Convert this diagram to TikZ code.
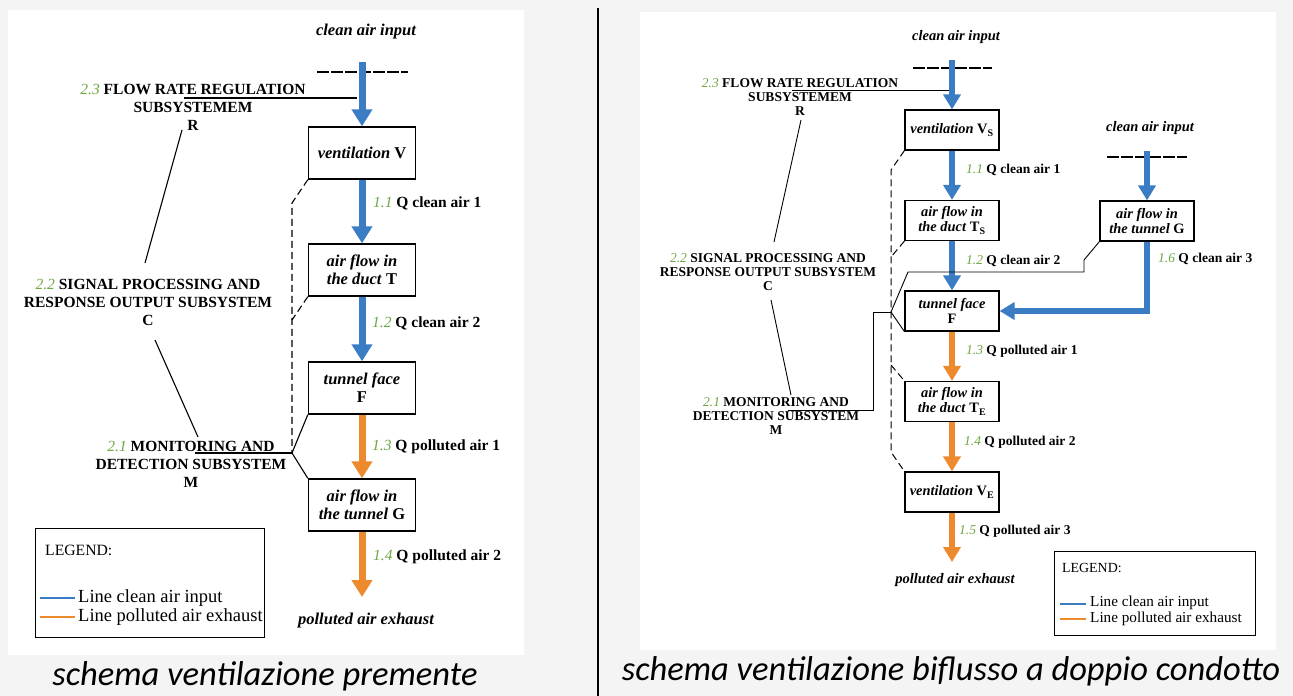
\documentclass[tikz,border=0pt]{standalone}
\usepackage{fontspec}
\setmainfont{Liberation Serif}
\newfontfamily\capfont{Carlito}
\usetikzlibrary{positioning,arrows.meta}
\definecolor{airblue}{HTML}{3B7DC4}
\definecolor{airorange}{HTML}{EE8A2E}
\definecolor{numgreen}{HTML}{6FA843}
\definecolor{pagegray}{HTML}{F4F4F4}
\newcommand{\sysno}[1]{\textcolor{numgreen}{\mdseries\itshape #1}}
\tikzset{
  box/.style={draw,line width=1.4pt,minimum width=107pt,minimum height=52pt,inner sep=1pt,align=center,font=\fontsize{16.5}{18}\selectfont\bfseries},
  boxR/.style={box,line width=1.2pt,minimum width=94pt,minimum height=40pt,font=\fontsize{14.4}{15}\selectfont\bfseries},
  flowL/.style={line width=7pt,-{Triangle[width=20pt,length=17pt]}},
  flowR/.style={line width=6pt,-{Triangle[width=17pt,length=15pt]}},
  lblL/.style={anchor=west,inner sep=0pt,font=\fontsize{15.5}{18}\selectfont\bfseries},
  lblR/.style={anchor=west,inner sep=0pt,font=\fontsize{13.5}{14}\selectfont\bfseries},
  sysL/.style={align=center,inner sep=0pt,font=\fontsize{15.5}{18}\selectfont\bfseries},
  sysR/.style={align=center,inner sep=0pt,font=\fontsize{13.5}{13.7}\selectfont\bfseries},
  endL/.style={inner sep=0pt,font=\fontsize{16.5}{18}\selectfont\bfseries\itshape},
  endR/.style={inner sep=0pt,font=\fontsize{14.5}{16}\selectfont\bfseries\itshape},
  lead/.style={line width=1.1pt},
  probe/.style={line width=1.1pt,dash pattern=on 7pt off 4pt},
  inlet/.style={line width=1.1pt,dash pattern=on 12pt off 2pt},
  caption/.style={inner sep=0pt,font=\capfont\itshape\fontsize{34.5}{38}\selectfont},
}

\begin{document}
\begin{tikzpicture}[x=1pt,y=-1pt]
  \useasboundingbox (0,0) rectangle (1293,696);
  \fill[pagegray] (0,0) rectangle (1293,696);
  \fill[white] (8,10) rectangle (524,655);
  \fill[white] (640,12) rectangle (1276,650);
  \draw[line width=2pt] (598,8) -- (598,696);

  % --- schema premente ---
  \node[endL] (srcL) at (366,32) {clean air input};
  \draw[inlet] (317,72) -- (408,72);
  \node[box] (V) at (362,153) {\textit{ventilation} V};
  \node[box] (T) at (362,270) {\textit{air flow in}\\\textit{the duct} T};
  \node[box] (F) at (362,388) {\textit{tunnel face}\\F};
  \node[box] (G) at (362,505) {\textit{air flow in}\\\textit{the tunnel} G};
  \node[endL] (exhL) at (366,621) {polluted air exhaust};
  \coordinate (inL) at (362,62);
  \coordinate (outL) at (362,597);
  \foreach \a/\b/\c in {inL/V/airblue,V/T/airblue,T/F/airblue,F/G/airorange,G/outL/airorange}
     {\draw[flowL,\c] (\a) -- (\b);}
  \node[lblL] (q11) at (373,203) {\sysno{1.1} Q clean air 1};
  \node[lblL] (q12) at (372,323) {\sysno{1.2} Q clean air 2};
  \node[lblL] (q13) at (372,447) {\sysno{1.3} Q polluted air 1};
  \node[lblL] (q14) at (373,557) {\sysno{1.4} Q polluted air 2};

  \node[sysL] (R) at (193,107) {\sysno{2.3} FLOW RATE REGULATION\\SUBSYSTEMEM\\R};
  \node[sysL] (C) at (148,302) {\sysno{2.2} SIGNAL PROCESSING AND\\RESPONSE OUTPUT SUBSYSTEM\\C};
  \node[sysL] (M) at (191,464) {\sysno{2.1} MONITORING AND\\DETECTION SUBSYSTEM\\M};
  \coordinate (rL1) at (184,98);  \coordinate (rL2) at (357,98);
  \coordinate (rL3) at (182,130); \coordinate (cL1) at (145,263);
  \coordinate (cL2) at (155,340); \coordinate (mL1) at (198,437);
  \coordinate (mL0) at (195,453); \coordinate (mL) at (292,453);
  \coordinate (dL1) at (292,203); \coordinate (dL2) at (292,320);
  \draw[lead] (rL1) -- (rL2);
  \draw[lead] (rL3) -- (cL1);
  \draw[lead] (cL2) -- (mL1);
  \draw[lead] (mL0) -- (mL);
  \draw[lead] (F.south west) -- (mL) -- (G.north west);
  \draw[probe] (V.south west) -- (dL1) -- (mL);
  \draw[probe] (T.south west) -- (dL2);

  \node[draw,line width=1.3pt,minimum width=229pt,minimum height=109pt,anchor=north west] (legL) at (35,528) {};
  \node[anchor=west,inner sep=0pt,font=\fontsize{15.7}{17}\selectfont] (legLt) at (45,550) {LEGEND:};
  \draw[airblue,line width=1.5pt] (40,598) -- (75,598);
  \draw[airorange,line width=1.5pt] (40,617) -- (75,617);
  \node[anchor=west,inner sep=0pt,font=\fontsize{18.5}{20}\selectfont] (legL1) at (78,598) {Line clean air input};
  \node[anchor=west,inner sep=0pt,font=\fontsize{18.5}{20}\selectfont] (legL2) at (78,617) {Line polluted air exhaust};
  \node[caption] (capL) at (265,676) {schema ventilazione premente};

  % --- schema biflusso a doppio condotto ---
  \node[endR] (srcR) at (956,37) {clean air input};
  \node[endR] (srcG) at (1150,128) {clean air input};
  \draw[inlet] (913,68) -- (992,68);
  \draw[inlet] (1107,157) -- (1187,157);
  \node[boxR] (VS) at (952,130) {\textit{ventilation} V\textsubscript{S}};
  \node[boxR] (TS) at (952,220.5) {\textit{air flow in}\\\textit{the duct} T\textsubscript{S}};
  \node[boxR] (FR) at (952,311) {\textit{tunnel face}\\F};
  \node[boxR] (TE) at (952,401.5) {\textit{air flow in}\\\textit{the duct} T\textsubscript{E}};
  \node[boxR] (VE) at (952,492) {\textit{ventilation} V\textsubscript{E}};
  \node[boxR] (GR) at (1147,221) {\textit{air flow in}\\\textit{the tunnel} G};
  \node[endR] (exhR) at (955,580) {polluted air exhaust};
  \coordinate (inR) at (952,60);
  \coordinate (inG) at (1147,151);
  \coordinate (outR) at (952,562);
  \foreach \a/\b/\c in {inR/VS/airblue,VS/TS/airblue,TS/FR/airblue,inG/GR/airblue,FR/TE/airorange,TE/VE/airorange,VE/outR/airorange}
     {\draw[flowR,\c] (\a) -- (\b);}
  \draw[flowR,airblue] (GR) |- (FR);
  \node[lblR] (r11) at (966,170) {\sysno{1.1} Q clean air 1};
  \node[lblR] (r12) at (966,261) {\sysno{1.2} Q clean air 2};
  \node[lblR] (r16) at (1158,259) {\sysno{1.6} Q clean air 3};
  \node[lblR] (r13) at (966,351) {\sysno{1.3} Q polluted air 1};
  \node[lblR] (r14) at (964,442) {\sysno{1.4} Q polluted air 2};
  \node[lblR] (r15) at (959,531) {\sysno{1.5} Q polluted air 3};

  \node[sysR] (RR) at (800,97) {\sysno{2.3} FLOW RATE REGULATION\\SUBSYSTEMEM\\R};
  \node[sysR] (CR) at (768,272) {\sysno{2.2} SIGNAL PROCESSING AND\\RESPONSE OUTPUT SUBSYSTEM\\C};
  \node[sysR] (MR) at (776,416) {\sysno{2.1} MONITORING AND\\DETECTION SUBSYSTEM\\M};
  \coordinate (rR1) at (792,90);  \coordinate (rR2) at (949,90);
  \coordinate (rR3) at (801,120); \coordinate (cR1) at (774,242);
  \coordinate (cR2) at (771,300); \coordinate (mR1) at (791,395);
  \coordinate (mR0) at (788,410); \coordinate (mR2) at (873,410);
  \coordinate (mR) at (891,312);
  \coordinate (gR1) at (908,272); \coordinate (gR2) at (1084,272); \coordinate (gR3) at (1084,260);
  \coordinate (dR1) at (891,170); \coordinate (dR2) at (891,452);
  \coordinate (dR3) at (891,257); \coordinate (dR4) at (891,365);
  \draw[lead,line width=0.9pt] (rR1) -- (rR2);
  \draw[lead,line width=0.9pt] (rR3) -- (cR1);
  \draw[lead,line width=0.9pt] (cR2) -- (mR1);
  \draw[lead,line width=0.9pt] (mR0) -- (mR2) |- (mR);
  \draw[lead,line width=0.9pt] (FR.south west) -- (mR) -- (gR1) -- (gR2) -- (gR3) -- (GR.south west);
  \draw[probe,line width=1pt] (VS.south west) -- (dR1) -- (dR2) -- (VE.north west);
  \draw[probe,line width=1pt] (TS.south west) -- (dR3);
  \draw[probe,line width=1pt] (dR4) -- (TE.north west);

  \node[draw,line width=1.2pt,minimum width=201pt,minimum height=84pt,anchor=north west] (legR) at (1054,551) {};
  \node[anchor=west,inner sep=0pt,font=\fontsize{13.9}{15}\selectfont] (legRt) at (1062,568) {LEGEND:};
  \draw[airblue,line width=1.3pt] (1060,604) -- (1086,604);
  \draw[airorange,line width=1.3pt] (1060,619) -- (1086,619);
  \node[anchor=west,inner sep=0pt,font=\fontsize{15.2}{16}\selectfont] (legR1) at (1090,603) {Line clean air input};
  \node[anchor=west,inner sep=0pt,font=\fontsize{15.2}{16}\selectfont] (legR2) at (1090,619) {Line polluted air exhaust};
  \node[caption] (capR) at (951,671) {schema ventilazione biflusso a doppio condotto};
\end{tikzpicture}
\end{document}
